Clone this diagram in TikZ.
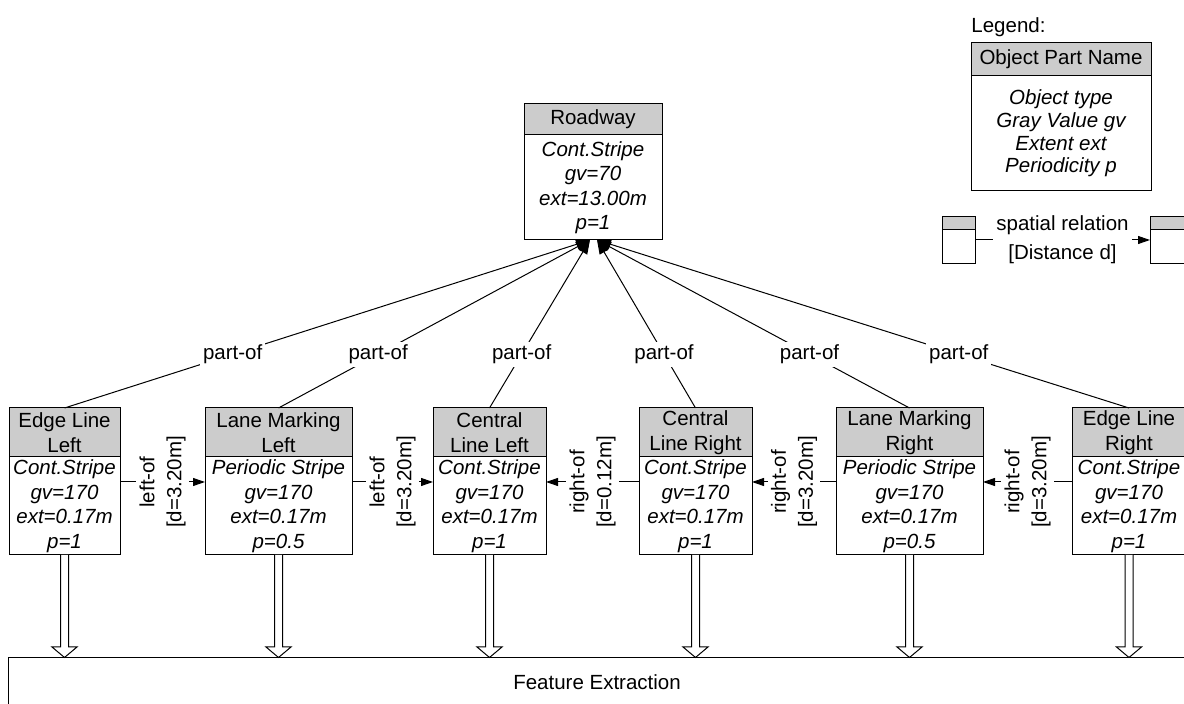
\documentclass[tikz,border=0pt]{standalone}
\usepackage{fontspec}
\setmainfont{Liberation Sans}
\usetikzlibrary{arrows.meta,calc}
\definecolor{hdrgray}{RGB}{204,204,204}
\newcommand\fs{\fontsize{10.25}{12.25}\selectfont}
\newcommand\objbox[8]{%
  \node[hdrbox, minimum width={(#3-#2)*0.5pt}, minimum height={(#5-#4)*0.5pt}] (#1h) at ({(#2+#3)/2},{(#4+#5)/2}) {#7};
  \node[bodbox, minimum width={(#3-#2)*0.5pt}, minimum height={(#6-#5)*0.5pt}] (#1) at ({(#2+#3)/2},{(#5+#6)/2}) {#8};
}
\newcommand\hollowdown[1]{%
  \draw[thinline, fill=white] ($(#1.south)+(-4,0)$) -- ($(#1.south)+(-4,92)$) -- ($(#1.south)+(-12.5,92)$)
    -- (#1.south |- FE.north) -- ($(#1.south)+(12.5,92)$) -- ($(#1.south)+(4,92)$) -- ($(#1.south)+(4,0)$);
}
\tikzset{
  thinline/.style={draw=black, line width=0.5pt},
  hdrbox/.style={thinline, fill=hdrgray, inner sep=0pt, outer sep=0pt, align=center, font=\fs},
  bodbox/.style={thinline, fill=white, inner sep=0pt, outer sep=0pt, align=center, font=\fs\itshape},
  rel/.style={thinline, -{Triangle[length=6pt,width=4pt]}},
  rellbl/.style={fill=white, rotate=90, align=center, inner sep=1.5pt, font=\fontsize{10.25}{13.5}\selectfont},
  partof/.style={thinline, -{Triangle[length=7pt,width=5pt]}},
  polbl/.style={fill=white, inner sep=1.5pt, font=\fs},
}
\begin{document}
\begin{tikzpicture}[x=0.5pt,y=-0.5pt]
\path[use as bounding box, fill=white] (0,0) rectangle (1184,704);

% Feature extraction box
\node[thinline, inner sep=0pt, minimum width={1178*0.5pt}, minimum height={48*0.5pt}, font=\fs] (FE) at (597,682) {Feature Extraction};

% Roadway
\objbox{RW}{524}{662}{104}{135}{240}{Roadway}{Cont.Stripe\\gv=70\\ext=13.00m\\p=1}

% Parts
\objbox{EL}{9}{120}{408}{457}{555}{Edge Line\\Left}{Cont.Stripe\\gv=170\\ext=0.17m\\p=1}
\objbox{LL}{205}{352}{408}{457}{555}{Lane Marking\\Left}{Periodic Stripe\\gv=170\\ext=0.17m\\p=0.5}
\objbox{CL}{433}{546}{408}{457}{555}{Central\\Line Left}{Cont.Stripe\\gv=170\\ext=0.17m\\p=1}
\objbox{CR}{639}{752}{408}{457}{555}{Central\\Line Right}{Cont.Stripe\\gv=170\\ext=0.17m\\p=1}
\objbox{LR}{836}{983}{408}{457}{555}{Lane Marking\\Right}{Periodic Stripe\\gv=170\\ext=0.17m\\p=0.5}
\objbox{ER}{1072}{1186}{408}{457}{555}{Edge Line\\Right}{Cont.Stripe\\gv=170\\ext=0.17m\\p=1}

% part-of connectors
\draw[partof] (ELh.north) -- node[polbl, pos=0.32] {part-of} ([xshift=-1.5pt]RW.south);
\draw[partof] (LLh.north) -- node[polbl, pos=0.32] {part-of} ([xshift=-1.5pt]RW.south);
\draw[partof] (CLh.north) -- node[polbl, pos=0.32] {part-of} ([xshift=-1.5pt]RW.south);
\draw[partof] (CRh.north) -- node[polbl, pos=0.32] {part-of} ([xshift=2pt]RW.south);
\draw[partof] (LRh.north) -- node[polbl, pos=0.32] {part-of} ([xshift=2pt]RW.south);
\draw[partof] (ERh.north) -- node[polbl, pos=0.32] {part-of} ([xshift=2pt]RW.south);

% spatial relations
\draw[rel] ([yshift=12pt]EL.east) -- node[rellbl] {left-of\\{}[d=3.20m]} ([yshift=12pt]LL.west);
\draw[rel] ([yshift=12pt]LL.east) -- node[rellbl] {left-of\\{}[d=3.20m]} ([yshift=12pt]CL.west);
\draw[rel] ([yshift=12pt]CR.west) -- node[rellbl] {right-of\\{}[d=0.12m]} ([yshift=12pt]CL.east);
\draw[rel] ([yshift=12pt]LR.west) -- node[rellbl] {right-of\\{}[d=3.20m]} ([yshift=12pt]CR.east);
\draw[rel] ([yshift=12pt]ER.west) -- node[rellbl] {right-of\\{}[d=3.20m]} ([yshift=12pt]LR.east);

% hollow arrows to feature extraction
\hollowdown{EL}
\hollowdown{LL}
\hollowdown{CL}
\hollowdown{CR}
\hollowdown{LR}
\hollowdown{ER}

% Legend
\node[anchor=west, inner sep=0pt, font=\fs] (LGT) at (971,27) {Legend:};
\node[hdrbox, minimum width={180*0.5pt}, minimum height={33*0.5pt}] (LGh) at (1061,59.5) {Object Part Name};
\node[bodbox, minimum width={180*0.5pt}, minimum height={115*0.5pt}, font=\fontsize{10.25}{11.4}\selectfont\itshape] (LG) at (1061,133.5) {Object type\\Gray Value gv\\Extent ext\\Periodicity p};
\objbox{SL}{942}{975}{217}{230}{264}{}{}
\objbox{SR}{1150}{1192}{217}{230}{264}{}{}
\draw[rel] ([yshift=3.5pt]SL.east) -- node[fill=white, align=center, inner sep=1.5pt, font=\fontsize{10.25}{14.5}\selectfont] {spatial relation\\{}[Distance d]} ([yshift=3.5pt]SR.west);
\end{tikzpicture}
\end{document}
